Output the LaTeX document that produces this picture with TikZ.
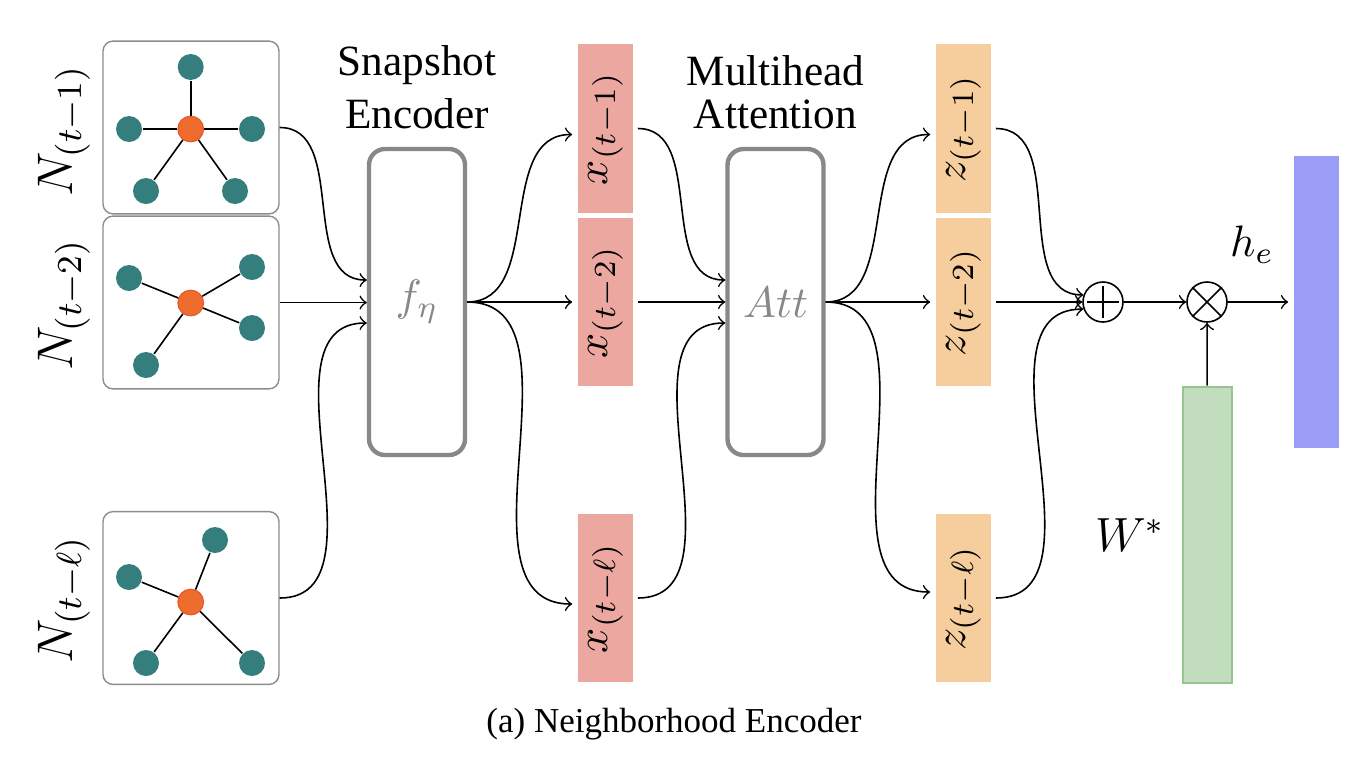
\documentclass[tikz,border=0pt]{standalone}
\usepackage{fix-cm}
\usepackage[no-math]{fontspec}
\setmainfont{Liberation Serif}
\newfontfamily\titlefont{Liberation Serif}

\definecolor{leafteal}{RGB}{53,126,126}
\definecolor{huborange}{RGB}{238,108,46}
\definecolor{hubedge}{RGB}{232,88,42}
\definecolor{framegray}{RGB}{140,140,140}
\definecolor{blockgray}{RGB}{136,136,136}
\definecolor{xpink}{RGB}{235,167,160}
\definecolor{zpeach}{RGB}{246,205,156}
\definecolor{hblue}{RGB}{155,156,245}
\definecolor{wfill}{RGB}{193,221,190}
\definecolor{wedge}{RGB}{150,196,143}

\tikzset{
  leaf/.style = {circle, fill=leafteal, minimum size=6.5pt, inner sep=0},
  hub/.style = {circle, fill=huborange, draw=hubedge, line width=0.3pt,
    minimum size=6.4pt, inner sep=0},
  snapbox/.style = {draw=framegray, line width=0.35pt, rounded corners=2.5pt,
    minimum width=44pt, minimum height=43.2pt, inner sep=0},
  block/.style = {draw=blockgray, line width=1.1pt, rounded corners=4pt,
    minimum width=24pt, minimum height=76.5pt, inner sep=0,
    text=blockgray},
  xvec/.style = {fill=xpink, minimum width=42.2pt, minimum height=13.75pt,
    inner sep=0, rotate=90},
  zvec/.style = {xvec, fill=zpeach},
  op/.style = {circle, draw, line width=0.4pt, minimum size=10pt, inner sep=0},
  blocktitle/.style = {align=center, inner sep=0, anchor=south}
}

\begin{document}
\begin{tikzpicture}[x=0.25pt, y=-0.25pt, font=\fontsize{11}{13}\selectfont]
  \useasboundingbox (0,0) rectangle (1358,762);

  % neighbourhood snapshots
  \node[snapbox] (s1) at (191,127.5) {};
  \node[snapbox] (s2) at (191,302.5) {};
  \node[snapbox] (s3) at (191,598) {};

  \node[hub] (ga) at (190.7,129) {};
  \foreach \a/\b [count=\i] in {190.7/67, 129/129, 252/129, 146/191, 235/191}
  {
    \node[leaf] (ga\i) at (\a,\b) {};
    \draw (ga) -- (ga\i);
  }
  \node[hub] (gb) at (190.7,303) {};
  \foreach \a/\b [count=\i] in {129/278, 252/267, 252/328, 146/365}
  {
    \node[leaf] (gb\i) at (\a,\b) {};
    \draw (gb) -- (gb\i);
  }
  \node[hub] (gc) at (190.7,602) {};
  \foreach \a/\b [count=\i] in {129/577, 215/540, 146/663, 252/663}
  {
    \node[leaf] (gc\i) at (\a,\b) {};
    \draw (gc) -- (gc\i);
  }

  \node[rotate=90, font=\fontsize{12.5}{14}\selectfont] (n1) at (64,131) {$N_{(t-1)}$};
  \node[rotate=90, font=\fontsize{12.5}{14}\selectfont] (n2) at (64,305) {$N_{(t-2)}$};
  \node[rotate=90, font=\fontsize{12.5}{14}\selectfont] (n3) at (64,600) {$N_{(t-\ell)}$};

  % encoders
  \node[block] (f) at (417,302) {$f_\eta$};
  \node[block] (att) at (775.5,302) {$Att$};
  \node[blocktitle, font=\titlefont\fontsize{10.8}{13.25}\selectfont] (ftitle) at (417,130)
    {Snapshot\\Encoder};
  \node[blocktitle, font=\titlefont\fontsize{10.8}{10.75}\selectfont] (atttitle) at (775.5,130)
    {Multihead\\Attention};

  % embeddings
  \node[xvec] (x1) at (605.5,128.5) {$x_{(t-1)}$};
  \node[xvec] (x2) at (605.5,302) {$x_{(t-2)}$};
  \node[xvec] (x3) at (605.5,598) {$x_{(t-\ell)}$};
  \node[zvec] (z1) at (963.5,128.5) {$z_{(t-1)}$};
  \node[zvec] (z2) at (963.5,302) {$z_{(t-2)}$};
  \node[zvec] (z3) at (963.5,598) {$z_{(t-\ell)}$};

  % aggregation
  \node[op] (plus) at (1103,302) {};
  \draw ([xshift=-4pt]plus.center) -- ([xshift=4pt]plus.center);
  \draw ([yshift=-4pt]plus.center) -- ([yshift=4pt]plus.center);
  \node[op] (times) at (1207,302) {};
  \draw (times.45) -- (times.225);
  \draw (times.135) -- (times.315);

  \node[fill=hblue, minimum width=11.25pt, minimum height=73pt, inner sep=0]
    (he) at (1316.5,302) {};
  \node[fill=wfill, draw=wedge, line width=0.5pt, minimum width=12.25pt,
    minimum height=74pt, inner sep=0] (w) at (1207.5,534.5) {};
  \node (helabel) at (1252,245) {$h_e$};
  \node[font=\fontsize{12}{14}\selectfont] (wlabel) at (1130,535) {$W^*$};

  % connectors
  \draw[->] (s1.east) to[out=0,in=180] ([yshift=5.5pt]f.west);
  \draw[->] (s2.east) -- (s2.east -| f.west);
  \draw[->] (s3.east) to[out=0,in=180] ([yshift=-5.25pt]f.west);

  \draw[->] (f.east) to[out=0,in=180] ([xshift=-1.25pt,yshift=-1.5pt]x1.north);
  \draw[->] (f.east) -- ([xshift=-1.25pt]x2.north);
  \draw[->] (f.east) to[out=0,in=180] ([xshift=-1.25pt,yshift=-1.5pt]x3.north);

  \draw[->] ([xshift=1pt]x1.south) to[out=0,in=180] ([yshift=5.5pt]att.west);
  \draw[->] ([xshift=1pt]x2.south) -- (att.west);
  \draw[->] ([xshift=1pt]x3.south) to[out=0,in=180] ([yshift=-5.25pt]att.west);

  \draw[->] (att.east) to[out=0,in=180] ([xshift=-1.25pt,yshift=-1.5pt]z1.north);
  \draw[->] (att.east) -- ([xshift=-1.25pt]z2.north);
  \draw[->] (att.east) to[out=0,in=180] ([xshift=-1.25pt,yshift=1.5pt]z3.north);

  \draw[->] ([xshift=1pt]z1.south) to[out=0,in=180] (plus.160);
  \draw[->] ([xshift=1pt]z2.south) -- (plus.west);
  \draw[->] ([xshift=1pt]z3.south) to[out=0,in=180] (plus.200);

  \draw[->] (plus) -- (times);
  \draw[->, shorten >=1.25pt] (times) -- (he);
  \draw[->] (w) -- (times);

  \node[font=\fontsize{8.75}{10}\selectfont] (caption) at (674,724)
    {(a) Neighborhood Encoder};
\end{tikzpicture}
\end{document}
